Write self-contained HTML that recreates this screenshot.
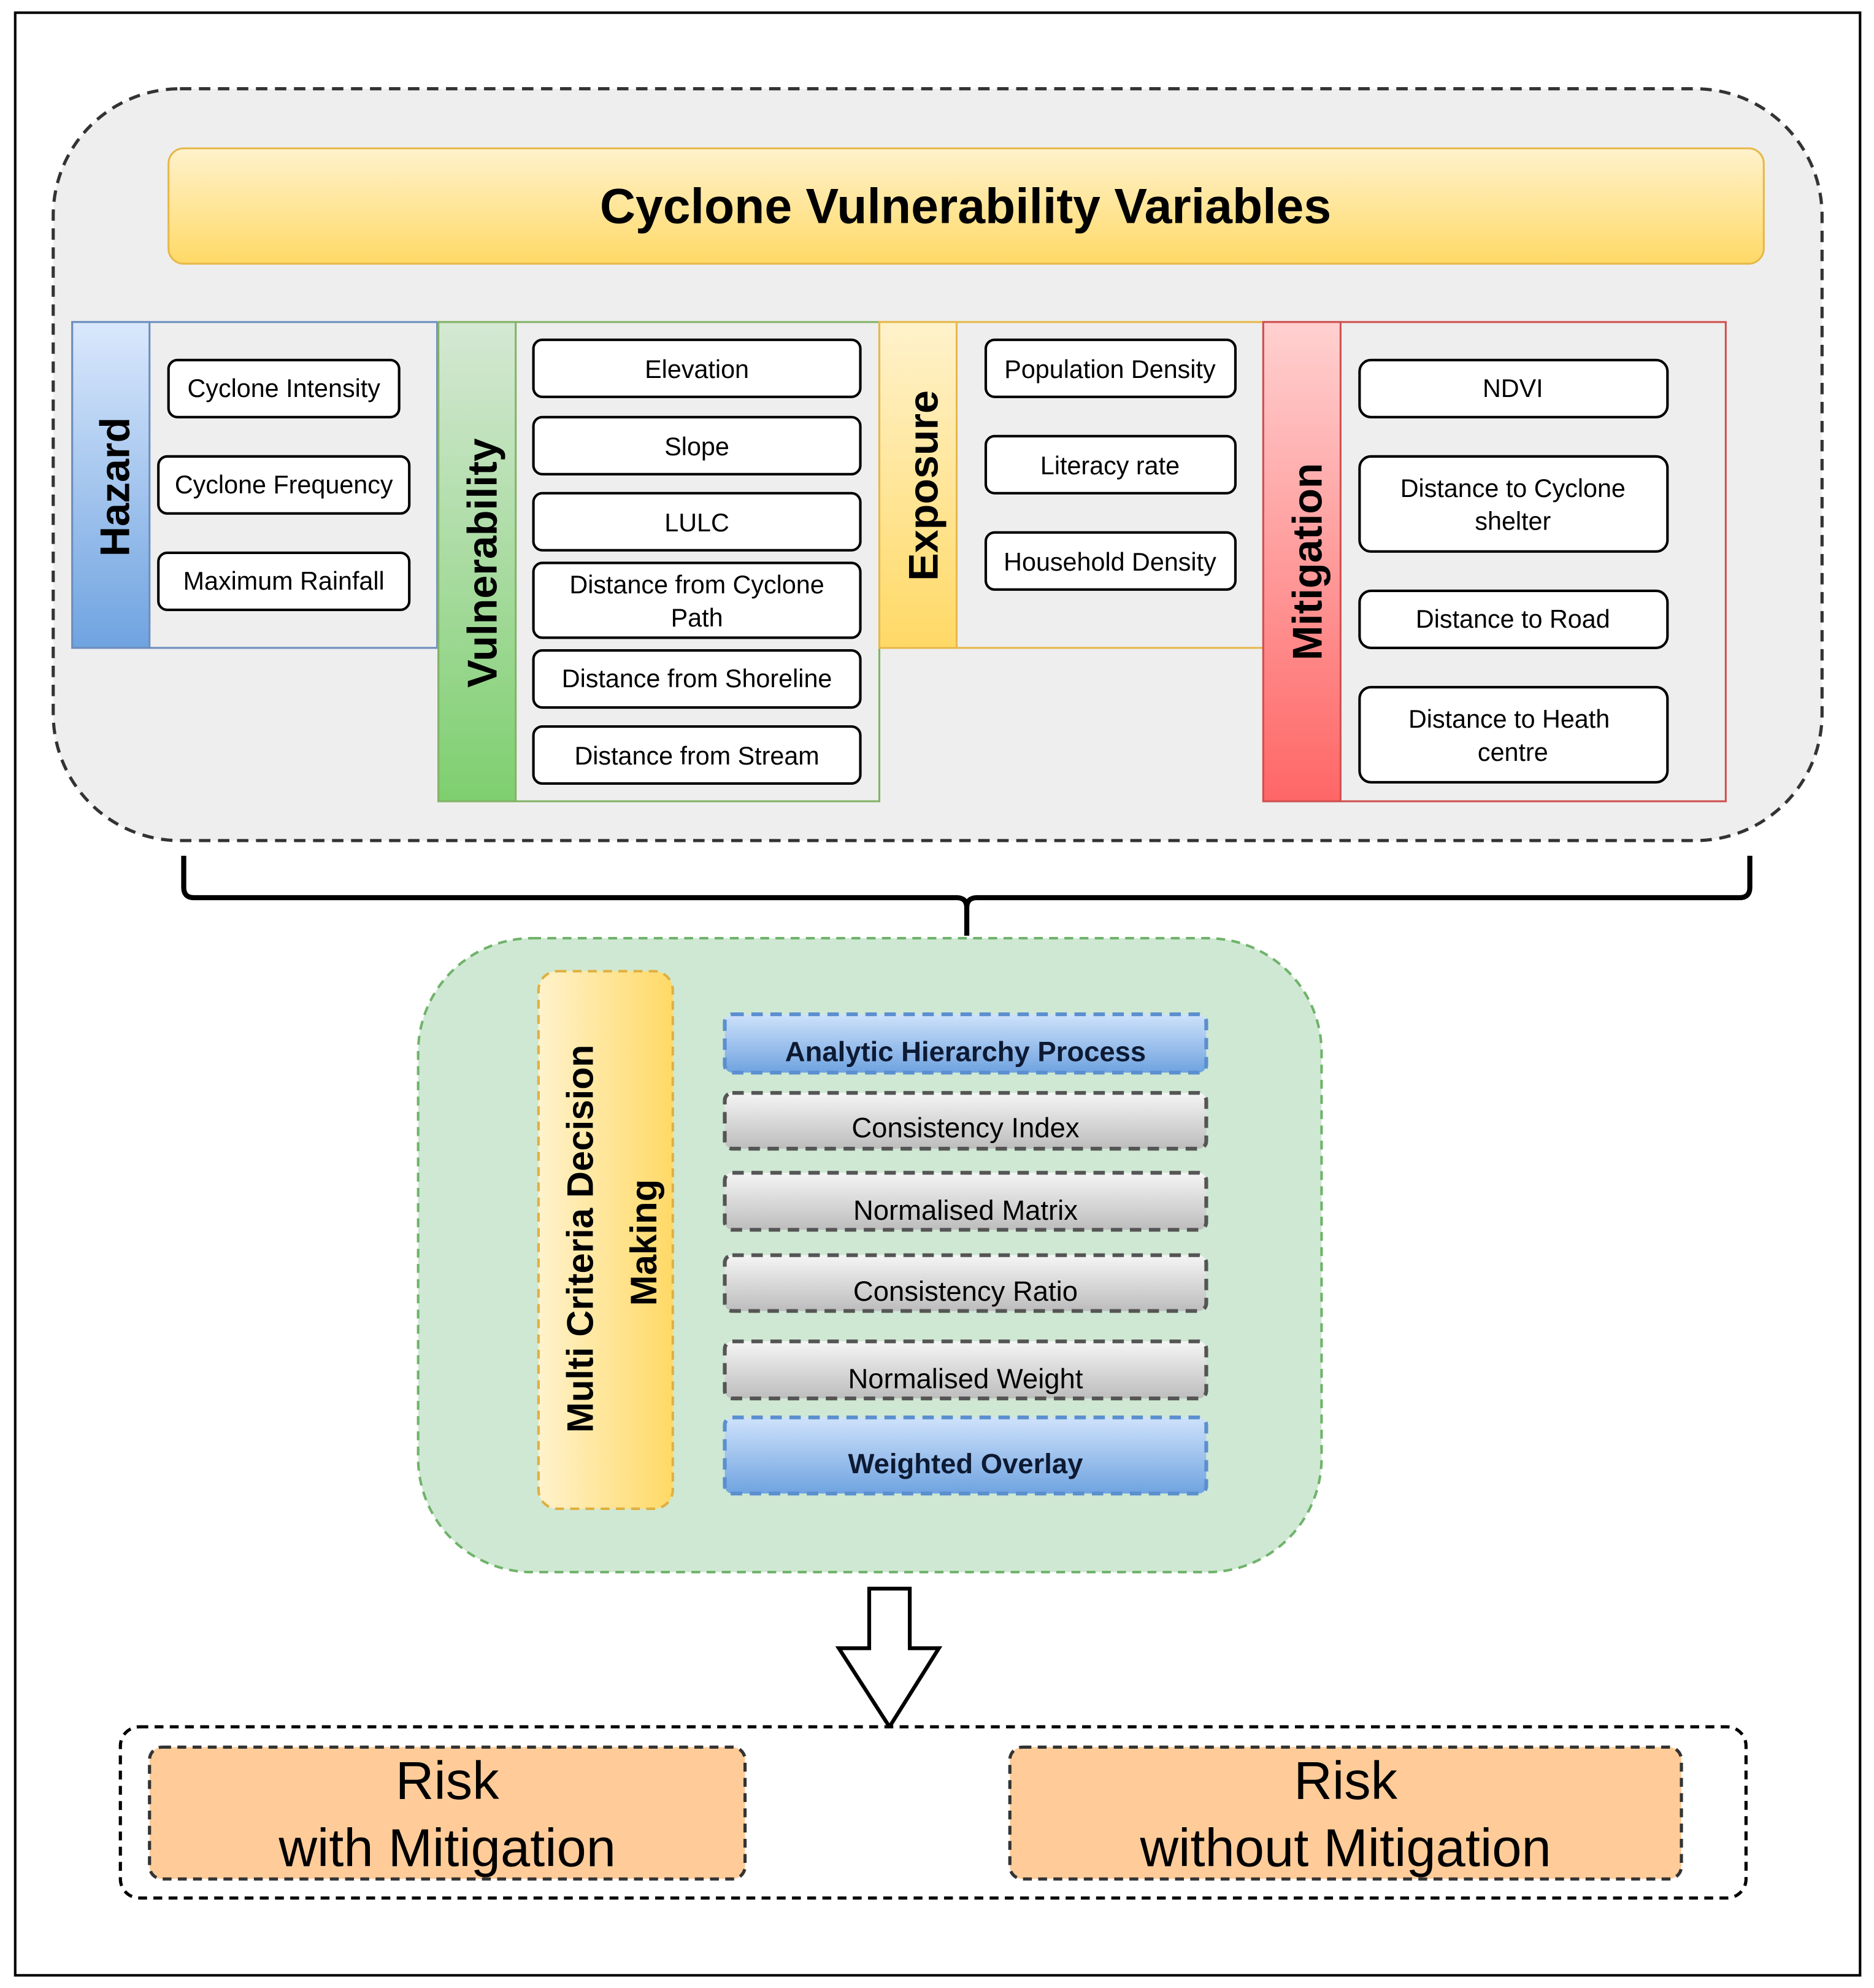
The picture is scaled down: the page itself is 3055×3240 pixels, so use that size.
<!DOCTYPE html>
<html><head><meta charset="utf-8"><style>
html,body{margin:0;padding:0;background:#fff;}
svg{display:block;}
text{font-family:"Liberation Sans",sans-serif;}
</style></head><body>
<svg width="3055" height="3240" viewBox="0 0 1479 1568" preserveAspectRatio="none" xmlns="http://www.w3.org/2000/svg">
<defs>
<linearGradient id="gy" x1="0" y1="0" x2="0" y2="1"><stop offset="0" stop-color="#fff2cc"/><stop offset="1" stop-color="#ffd966"/></linearGradient>
<linearGradient id="gyh" x1="0" y1="0" x2="1" y2="0"><stop offset="0" stop-color="#fff2cc"/><stop offset="1" stop-color="#ffd966"/></linearGradient>
<linearGradient id="gb" x1="0" y1="0" x2="0" y2="1"><stop offset="0" stop-color="#dae8fc"/><stop offset="1" stop-color="#6fa3e0"/></linearGradient>
<linearGradient id="gg" x1="0" y1="0" x2="0" y2="1"><stop offset="0" stop-color="#d5e8d4"/><stop offset="1" stop-color="#7ecf6f"/></linearGradient>
<linearGradient id="gr" x1="0" y1="0" x2="0" y2="1"><stop offset="0" stop-color="#ffd0d0"/><stop offset="1" stop-color="#ff6666"/></linearGradient>
<linearGradient id="ggr" x1="0" y1="0" x2="0" y2="1"><stop offset="0" stop-color="#f5f5f5"/><stop offset="1" stop-color="#bdbdbd"/></linearGradient>
<linearGradient id="gbb" x1="0" y1="0" x2="0" y2="1"><stop offset="0" stop-color="#cfe2fb"/><stop offset="1" stop-color="#6fa3e0"/></linearGradient>
</defs>
<rect x="12" y="10" width="1456" height="1548" fill="#fff" stroke="#000" stroke-width="2"/>
<rect x="42" y="70" width="1396" height="593" rx="100" fill="#eeeeee" stroke="#333" stroke-width="2.5" stroke-dasharray="9,6"/>
<rect x="133" y="117" width="1259" height="91" rx="12" fill="url(#gy)" stroke="#e6b84a" stroke-width="1.5"/>
<text x="762" y="176" font-size="39" font-weight="bold" text-anchor="middle">Cyclone Vulnerability Variables</text>

<rect x="57" y="254" width="288" height="257" fill="#eeeeee" stroke="#6c8ebf" stroke-width="1.5"/>
<rect x="57" y="254" width="61" height="257" fill="url(#gb)" stroke="#6c8ebf" stroke-width="1.5"/>
<text transform="translate(102,384) rotate(-90)" font-size="33" font-weight="bold" text-anchor="middle">Hazard</text>
<rect x="346" y="254" width="348" height="378" fill="#eeeeee" stroke="#82b366" stroke-width="1.5"/>
<rect x="346" y="254" width="61" height="378" fill="url(#gg)" stroke="#82b366" stroke-width="1.5"/>
<text transform="translate(392,444) rotate(-90)" font-size="33" font-weight="bold" text-anchor="middle">Vulnerability</text>
<rect x="694" y="254" width="303" height="257" fill="#eeeeee" stroke="#e6b84a" stroke-width="1.5"/>
<rect x="694" y="254" width="61" height="257" fill="url(#gy)" stroke="#e6b84a" stroke-width="1.5"/>
<text transform="translate(740,383) rotate(-90)" font-size="33" font-weight="bold" text-anchor="middle">Exposure</text>
<rect x="997" y="254" width="365" height="378" fill="#eeeeee" stroke="#d05050" stroke-width="1.5"/>
<rect x="997" y="254" width="61" height="378" fill="url(#gr)" stroke="#d05050" stroke-width="1.5"/>
<text transform="translate(1043,443) rotate(-90)" font-size="33" font-weight="bold" text-anchor="middle">Mitigation</text>

<g fill="#fff" stroke="#000" stroke-width="2">
<rect x="133" y="284" width="182" height="45" rx="7"/>
<rect x="125" y="360" width="198" height="45" rx="7"/>
<rect x="125" y="436" width="198" height="45" rx="7"/>
<rect x="421" y="268" width="258" height="45" rx="7"/>
<rect x="421" y="329" width="258" height="45" rx="7"/>
<rect x="421" y="389" width="258" height="45" rx="7"/>
<rect x="421" y="444" width="258" height="59" rx="7"/>
<rect x="421" y="513" width="258" height="45" rx="7"/>
<rect x="421" y="573" width="258" height="45" rx="7"/>
<rect x="778" y="268" width="197" height="45" rx="7"/>
<rect x="778" y="344" width="197" height="45" rx="7"/>
<rect x="778" y="420" width="197" height="45" rx="7"/>
<rect x="1073" y="284" width="243" height="45" rx="9"/>
<rect x="1073" y="360" width="243" height="75" rx="9"/>
<rect x="1073" y="466" width="243" height="45" rx="9"/>
<rect x="1073" y="542" width="243" height="75" rx="9"/>
</g>
<g font-size="20" text-anchor="middle">
<text x="224" y="313">Cyclone Intensity</text>
<text x="224" y="389">Cyclone Frequency</text>
<text x="224" y="465">Maximum Rainfall</text>
<text x="550" y="298">Elevation</text>
<text x="550" y="359">Slope</text>
<text x="550" y="419">LULC</text>
<text x="550" y="468">Distance from Cyclone</text>
<text x="550" y="494">Path</text>
<text x="550" y="542">Distance from Shoreline</text>
<text x="550" y="603">Distance from Stream</text>
<text x="876" y="298">Population Density</text>
<text x="876" y="374">Literacy rate</text>
<text x="876" y="450">Household Density</text>
<text x="1194" y="313">NDVI</text>
<text x="1194" y="392">Distance to Cyclone</text>
<text x="1194" y="418">shelter</text>
<text x="1194" y="495">Distance to Road</text>
<text x="1191" y="574">Distance to Heath</text>
<text x="1194" y="600">centre</text>
</g>

<path d="M145,675 V700 Q145,708 153,708 H755 Q763,708 763,716 V738 M763,716 Q763,708 771,708 H1373 Q1381,708 1381,700 V675" fill="none" stroke="#000" stroke-width="4"/>

<rect x="330" y="740" width="713" height="500" rx="90" fill="#cfe8d3" stroke="#6fb36a" stroke-width="2" stroke-dasharray="7,5"/>
<rect x="425" y="766" width="106" height="424" rx="15" fill="url(#gyh)" stroke="#e0b040" stroke-width="2" stroke-dasharray="7,5"/>
<text transform="translate(468,977) rotate(-90)" font-size="29" font-weight="bold" text-anchor="middle">Multi Criteria Decision</text>
<text transform="translate(518,980) rotate(-90)" font-size="29" font-weight="bold" text-anchor="middle">Making</text>

<g stroke-width="3" stroke-dasharray="9,6">
<rect x="572" y="800" width="380" height="46" rx="6" fill="url(#gbb)" stroke="#5b8fcf"/>
<rect x="572" y="862" width="380" height="44" rx="6" fill="url(#ggr)" stroke="#555"/>
<rect x="572" y="925" width="380" height="45" rx="6" fill="url(#ggr)" stroke="#555"/>
<rect x="572" y="990" width="380" height="44" rx="6" fill="url(#ggr)" stroke="#555"/>
<rect x="572" y="1058" width="380" height="45" rx="6" fill="url(#ggr)" stroke="#555"/>
<rect x="572" y="1118" width="380" height="60" rx="6" fill="url(#gbb)" stroke="#5b8fcf"/>
</g>
<g font-size="22" text-anchor="middle">
<text x="762" y="837" font-weight="bold" fill="#0d1a33">Analytic Hierarchy Process</text>
<text x="762" y="897">Consistency Index</text>
<text x="762" y="962">Normalised Matrix</text>
<text x="762" y="1026">Consistency Ratio</text>
<text x="762" y="1095">Normalised Weight</text>
<text x="762" y="1162" font-weight="bold" fill="#0d1a33">Weighted Overlay</text>
</g>

<path d="M686,1253 H718 V1300 H741 L702,1362 L662,1300 H686 Z" fill="#fff" stroke="#000" stroke-width="3" stroke-linejoin="miter"/>

<rect x="95" y="1362" width="1283" height="135" rx="15" fill="#fff" stroke="#000" stroke-width="2.5" stroke-dasharray="7,5"/>
<rect x="118" y="1378" width="470" height="104" rx="10" fill="#ffcc99" stroke="#333" stroke-width="2.5" stroke-dasharray="7,5"/>
<rect x="797" y="1378" width="530" height="104" rx="10" fill="#ffcc99" stroke="#333" stroke-width="2.5" stroke-dasharray="7,5"/>
<g font-size="42" text-anchor="middle">
<text x="353" y="1419">Risk</text>
<text x="353" y="1472">with Mitigation</text>
<text x="1062" y="1419">Risk</text>
<text x="1062" y="1472">without Mitigation</text>
</g>
</svg>
</body></html>
